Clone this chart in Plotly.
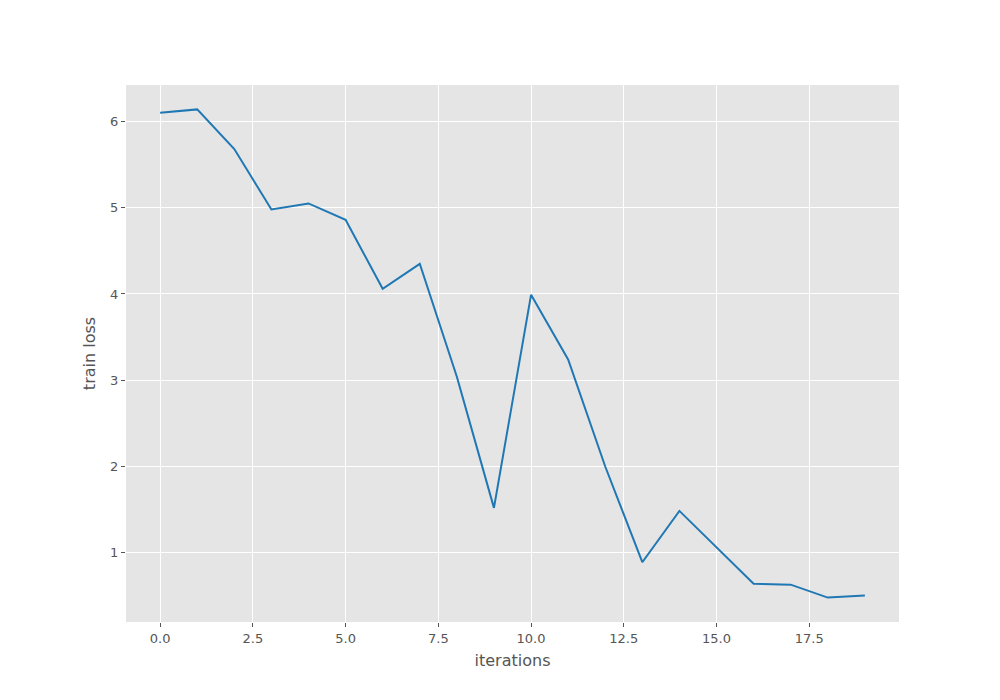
import plotly.graph_objects as go

iterations = list(range(20))
train_loss = [6.10, 6.14, 5.68, 4.98, 5.05, 4.86, 4.06, 4.35, 3.04, 1.52,
              3.99, 3.24, 2.00, 0.89, 1.485, 1.06, 0.64, 0.63, 0.48, 0.505]

x_ticks = [0, 2.5, 5, 7.5, 10, 12.5, 15, 17.5]
x_tick_labels = ["0.0", "2.5", "5.0", "7.5", "10.0", "12.5", "15.0", "17.5"]
y_ticks = [1, 2, 3, 4, 5, 6]

fig = go.Figure()
fig.add_trace(go.Scatter(x=iterations, y=train_loss, mode="lines",
                         line=dict(color="#1f77b4", width=2)))

font = "DejaVu Sans, sans-serif"
fig.update_layout(
    width=1000, height=700,
    margin=dict(l=118, r=109, t=77, b=86),
    paper_bgcolor="white", plot_bgcolor="#E5E5E5",
    showlegend=False,
    font=dict(family=font, color="#555555"),
)
fig.update_xaxes(
    range=[-0.92, 19.92], tickvals=x_ticks, ticktext=x_tick_labels,
    showgrid=True, gridcolor="white", gridwidth=1, zeroline=False,
    ticks="outside", ticklen=4, tickcolor="#555555", tickfont=dict(size=13, color="#555555"),
    title=dict(text="iterations", font=dict(size=16, color="#555555"), standoff=10),
    showline=False,
)
fig.update_yaxes(
    range=[0.197, 6.423], tickvals=y_ticks,
    showgrid=True, gridcolor="white", gridwidth=1, zeroline=False,
    ticks="outside", ticklen=4, tickcolor="#555555", tickfont=dict(size=13, color="#555555"),
    title=dict(text="train loss", font=dict(size=16, color="#555555"), standoff=10),
    showline=False,
)

fig.write_html("out.html")
